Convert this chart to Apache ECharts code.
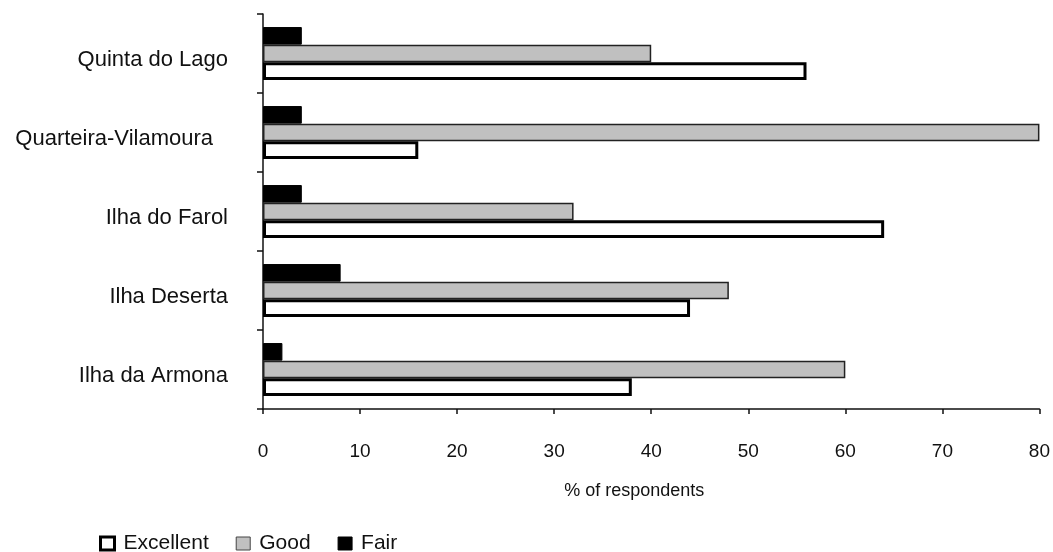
<!DOCTYPE html>
<html>
<head>
<meta charset="utf-8">
<script src="https://cdn.jsdelivr.net/npm/echarts@6/dist/echarts.min.js"></script>
<style>
  html, body { margin: 0; padding: 0; background: #fff; }
  #chart { width: 1053px; height: 552px; }
</style>
</head>
<body>
<div id="chart"></div>
<script>
// Beach sites, listed bottom to top
const categories = ['Ilha da Armona', 'Ilha Deserta', 'Ilha do Farol', 'Quarteira-Vilamoura', 'Quinta do Lago'];
// Share of respondents (%) per rating
const excellent = [38, 44, 64, 16, 56];
const good = [60, 48, 32, 80, 40];
const fair = [2, 8, 4, 4, 4];
const xTicks = [0, 10, 20, 30, 40, 50, 60, 70, 80];

const FONT = 'Liberation Sans, Arial, sans-serif';
const chart = echarts.init(document.getElementById('chart'), null, { renderer: 'canvas' });

chart.setOption({
  animation: false,
  textStyle: { fontFamily: FONT, color: '#111' },
  grid: { left: 263, right: 11, top: 14, bottom: 143, containLabel: false },
  legend: {
    data: [
      { name: 'Excellent', itemStyle: { color: '#fff', borderColor: '#000', borderWidth: 3 } },
      { name: 'Good', itemStyle: { color: '#c0c0c0', borderColor: '#444', borderWidth: 1 } },
      { name: 'Fair', itemStyle: { color: '#000', borderColor: '#000', borderWidth: 1 } }
    ],
    left: 94,
    top: 528,
    itemWidth: 14,
    itemHeight: 13,
    itemGap: 27,
    icon: 'rect',
    textStyle: { fontFamily: FONT, fontSize: 21, color: '#111', padding: [0, 0, 0, 4] }
  },
  xAxis: {
    type: 'value',
    min: xTicks[0],
    max: xTicks[xTicks.length - 1],
    interval: 10,
    name: '% of respondents',
    nameLocation: 'middle',
    nameGap: 73,
    nameTextStyle: { fontFamily: FONT, fontSize: 18, color: '#111', padding: [0, 34, 0, 0] },
    axisLine: { show: true, lineStyle: { color: '#111', width: 1.5 } },
    axisTick: { show: true, length: 5, lineStyle: { color: '#111', width: 1.5 } },
    axisLabel: { fontFamily: FONT, fontSize: 19, color: '#111', margin: 33 },
    splitLine: { show: false }
  },
  yAxis: {
    type: 'category',
    data: categories,
    axisLine: { show: true, lineStyle: { color: '#111', width: 1.5 } },
    axisTick: { show: true, length: 6, lineStyle: { color: '#111', width: 1.5 } },
    axisLabel: {
      fontFamily: FONT, fontSize: 22, color: '#111', margin: 35,
      padding: [12, 0, 0, 0],
      formatter: function (v) {
        return v === 'Quarteira-Vilamoura' ? '{long|' + v + '}' : v;
      },
      rich: {
        long: { fontFamily: FONT, fontSize: 22, color: '#111', padding: [0, 15, 0, 0] }
      }
    },
    splitLine: { show: false }
  },
  // Within each band: Fair on top, Good in the middle, Excellent at the bottom
  series: [
    {
      name: 'Fair', type: 'bar', data: fair,
      barGap: '0%', barCategoryGap: '33%',
      itemStyle: { color: '#000000', borderColor: '#000', borderWidth: 1 }
    },
    {
      name: 'Good', type: 'bar', data: good,
      itemStyle: { color: '#c0c0c0', borderColor: '#222', borderWidth: 1.5 }
    },
    {
      name: 'Excellent', type: 'bar', data: excellent,
      itemStyle: { color: '#ffffff', borderColor: '#000', borderWidth: 3 }
    }
  ]
});
</script>
</body>
</html>
